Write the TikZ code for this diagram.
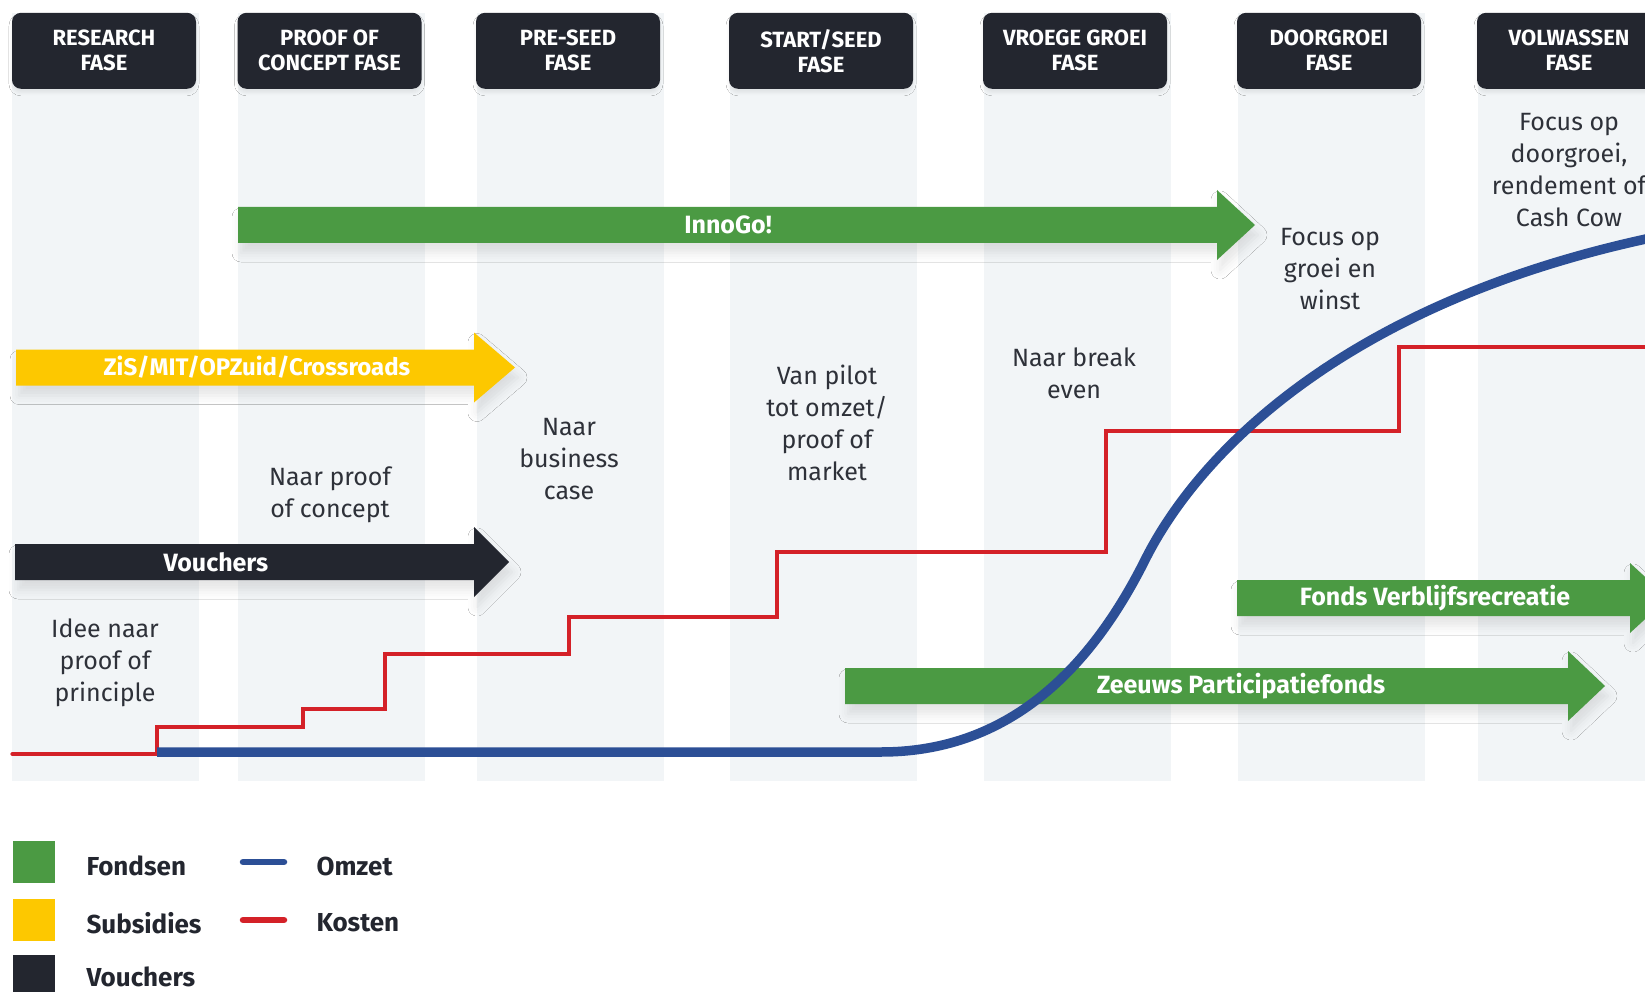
\documentclass[tikz,border=0pt]{standalone}
\usepackage{fontspec}
\setmainfont{Fira Sans}
\usetikzlibrary{shadows.blur}
\definecolor{dark}{HTML}{23262F}
\definecolor{fgreen}{HTML}{4B9A43}
\definecolor{fyellow}{HTML}{FDC800}
\definecolor{kred}{HTML}{D42128}
\definecolor{oblue}{HTML}{2C4F96}
\definecolor{colbg}{HTML}{F2F5F7}
\definecolor{txt}{HTML}{2E3139}
\newcommand\fatarrow[5]{%
  \fill[#1, arrowshadow] (#2,#5-18) -- (#3,#5-18) -- (#3,#5-35) -- (#4,#5) -- (#3,#5+35) -- (#3,#5+18) -- (#2,#5+18) -- cycle;}
\begin{document}
\begin{tikzpicture}[x=1pt,y=-1pt,
  colbox/.style={fill=colbg, draw=none, minimum width=187pt, minimum height=768pt, inner sep=0pt, anchor=north},
  hdr/.style={fill=dark, rounded corners=9pt, text=white, align=center, font=\bfseries\fontsize{22}{25}\selectfont, minimum width=184pt, minimum height=76pt, inner sep=0pt, blur shadow={shadow xshift=0pt, shadow yshift=-4pt, shadow blur radius=3pt, shadow opacity=7}},
  body/.style={text=txt, align=center, font=\fontsize{25}{32}\selectfont},
  alabel/.style={text=white, font=\bfseries\fontsize{25}{28}\selectfont},
  legtxt/.style={text=dark, anchor=west, font=\bfseries\fontsize{26}{30}\selectfont},
  legbox/.style={minimum size=42pt, inner sep=0pt},
  arrowshadow/.style={blur shadow={shadow xshift=3pt, shadow yshift=-10pt, shadow blur radius=9pt, shadow opacity=10}},
  kosten/.style={draw=kred, line width=4.5pt},
  omzet/.style={draw=oblue, line width=9.5pt},
]
\useasboundingbox (0,0) rectangle (1645,992);
\clip (0,0) rectangle (1645,992);
\fill[white] (0,0) rectangle (1645,992);

% columns
\node[colbox] (c1) at (105.8,12.6) {};
\node[colbox] (c2) at (331.5,12.6) {};
\node[colbox] (c3) at (570,12.6) {};
\node[colbox] (c4) at (823,12.6) {};
\node[colbox] (c5) at (1077,12.6) {};
\node[colbox] (c6) at (1331,12.6) {};
\node[colbox] (c7) at (1571,12.6) {};

% headers
\node[hdr] (h1) at (104,50.8) {RESEARCH\\FASE};
\node[hdr] (h2) at (329.5,50.8) {PROOF OF\\CONCEPT FASE};
\node[hdr] (h3) at (568,50.8) {PRE-SEED\\FASE};
\node[hdr] (h4) at (821,50.8) {START/SEED\\FASE};
\node[hdr] (h5) at (1075,50.8) {VROEGE GROEI\\FASE};
\node[hdr] (h6) at (1329,50.8) {DOORGROEI\\FASE};
\node[hdr] (h7) at (1569,50.8) {VOLWASSEN\\FASE};

% phase texts
\node[body] (t1) at (105,663) {Idee naar\\proof of\\principle};
\node[body] (t2) at (330,495) {Naar proof\\of concept};
\node[body] (t3) at (569,459) {Naar\\business\\case};
\node[body] (t4) at (827,423) {Van pilot\\tot omzet/\\proof of\\market};
\node[body] (t5) at (1074,373) {Naar break\\even};
\node[body] (t6) at (1330,269) {Focus op\\groei en\\winst};
\node[body] (t7) at (1569,170) {Focus op\\doorgroei,\\rendement of\\Cash Cow};

% arrows
\fatarrow{fgreen}{238}{1217}{1255}{225}
\node[alabel] (a1) at (728,225) {InnoGo!};
\fatarrow{fyellow}{16}{474}{515}{367.5}
\node[alabel, font=\bfseries\fontsize{24}{28}\selectfont] (a2) at (257,367.5) {ZiS/MIT/OPZuid/Crossroads};
\fatarrow{dark}{15}{474}{509}{562}
\node[alabel] (a3) at (216,562) {Vouchers};
\fatarrow{fgreen}{1237}{1630}{1668}{598}
\node[alabel] (a4) at (1435,598) {Fonds Verblijfsrecreatie};
\fatarrow{fgreen}{845}{1568}{1605}{686}
\node[alabel] (a5) at (1241,686) {Zeeuws Participatiefonds};

% kosten
\draw[kosten, line cap=round] (12.6,754) -| (157,727) -| (303,709) -| (385,654) -| (569,617) -| (777,552) -| (1106,431) -| (1399,347) -- (1660,347);
% omzet
\draw[omzet] (157,752) -- (881,752) .. controls (1000,752) and (1085,680) .. (1145,560) .. controls (1200,450) and (1350,300) .. (1660,236);

% legend
\node[legbox, fill=fgreen] (lg1) at (33.5,862) {};
\node[legbox, fill=fyellow] (lg2) at (33.5,920) {};
\node[legbox, fill=dark] (lg3) at (33.5,976) {};
\node[legtxt] (lt1) at (83,866) {Fondsen};
\node[legtxt] (lt2) at (83,923) {Subsidies};
\node[legtxt] (lt3) at (83,977) {Vouchers};
\draw[oblue, line width=6.5pt, line cap=round] (243,862) -- (284,862);
\draw[kred, line width=6.5pt, line cap=round] (243,920) -- (284,920);
\node[legtxt] (lt4) at (313,866) {Omzet};
\node[legtxt] (lt5) at (313,923) {Kosten};
\end{tikzpicture}
\end{document}
